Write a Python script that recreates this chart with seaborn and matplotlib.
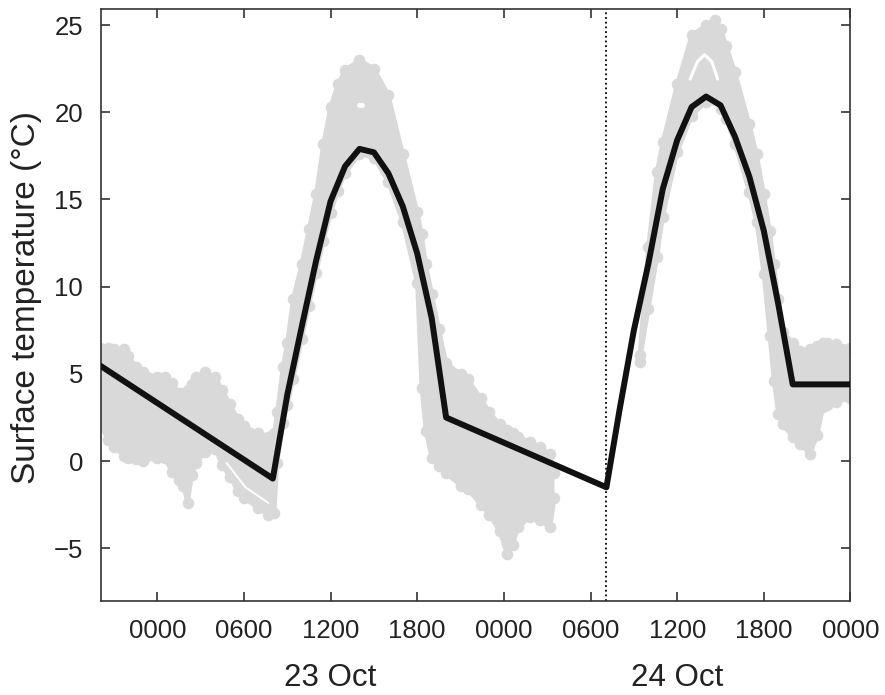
import numpy as np
import pandas as pd
import matplotlib
matplotlib.use("Agg")
import matplotlib.pyplot as plt
import seaborn as sns
from matplotlib.transforms import blended_transform_factory

# ---------------- data (hours relative to 0000 on 23 Oct) ----------------
mean_hours = [-4, 8, 9, 10, 11, 12, 13, 14, 15, 16, 17, 18, 19, 20,
              31.1, 32, 33, 34, 35, 36, 37, 38, 39, 40, 41, 42, 43, 44, 48]
mean_temp = [5.5, -1.0, 3.8, 7.7, 11.5, 14.9, 16.9, 17.9, 17.7, 16.5, 14.6, 11.9, 8.2, 2.5,
             -1.5, 2.9, 7.5, 11.3, 15.6, 18.4, 20.3, 20.9, 20.4, 18.6, 16.3, 13.2, 9.0, 4.4, 4.4]

cloud_hours = [-4, -3.4, -3, -2.3, -2, -1.5, -1, 0, 0.5, 1, 1.5, 1.8, 2.1, 2.4, 2.7, 3.3,
               4, 4.5, 5, 5.6, 6, 7, 7.7, 8.1, 8.3, 8.7, 9, 9.4, 10, 10.5, 11, 11.5, 12,
               12.5, 13, 14, 15, 16, 17, 18, 18.3, 18.6, 19, 19.5, 20, 21, 21.5, 22.4, 23,
               23.7, 24.2, 24.6, 25, 25.8, 26.5, 27.2, 27.5, 30,
               33.4, 34, 34.6, 35, 36, 37, 38, 38.6, 39, 39.4, 40, 41, 41.5, 42, 42.4,
               42.7, 43, 43.3, 44, 44.5, 45.2, 45.7, 46.1, 46.4, 47, 48]
cloud_upper = [6.5, 6.5, 6.4, 6.4, 6.0, 5.4, 5.1, 4.8, 4.8, 4.5, 3.9, 3.9, 4.1, 4.4, 4.8, 5.1,
               4.8, 4.1, 3.3, 2.4, 2.0, 1.6, 1.4, 1.6, 2.8, 5.4, 6.8, 9.3, 11.3, 13.3, 15.3, 18.2, 20.3,
               21.6, 22.4, 23.0, 22.5, 21.0, 17.6, 14.3, 13.0, 11.3, 9.6, 7.6, 5.6, 5.0, 4.7, 3.6, 2.8,
               2.1, 1.8, 1.6, 1.4, 1.1, 0.8, 0.4, -0.7, None,
               6.1, 12.3, 16.6, 18.3, 21.6, 24.4, 25.0, 25.3, 24.8, 23.8, 22.3, 19.3, 17.6, 15.3, 13.2,
               11.3, 9.3, 7.4, 6.8, 6.3, 6.4, 6.6, 6.8, 6.8, 6.7, 6.5]
cloud_lower = [2.2, 1.2, 0.8, 0.3, 0.2, 0.1, 0.0, 0.2, 0.2, -0.6, -1.1, -1.4, -2.4, -0.8, -0.1, 0.5,
               0.7, -0.2, -0.9, -1.7, -2.1, -2.7, -3.1, -3.0, -0.1, 2.2, 3.2, 4.7, 7.0, 8.9, 10.8, 12.6, 14.2,
               15.5, 16.5, 17.6, 17.4, 16.0, 13.7, 10.2, 4.2, 1.7, 0.2, -0.3, -0.7, -1.4, -1.6, -2.5, -3.1,
               -4.0, -5.3, -4.8, -3.8, -3.2, -3.4, -3.8, -2.1, None,
               5.7, 8.7, 11.7, 14.0, 17.7, 19.8, 20.6, 20.7, 20.2, 19.6, 18.2, 15.4, 13.7, 10.7, 7.2,
               4.6, 2.7, 2.1, 1.4, 1.0, 0.4, 1.5, 3.1, 3.2, 3.4, 3.6]

# small gaps visible inside the cloud of individual readings
gap_night_hours = [4.8, 6.1, 7.7]
gap_night_temp = [-0.1, -1.5, -2.4]
gap_day1_hours = [13.95, 14.15]
gap_day1_temp = [20.4, 20.4]
gap_day2_hours = [36.9, 37.4, 37.9, 38.4, 38.8]
gap_day2_temp = [21.9, 22.9, 23.3, 22.9, 21.9]

sunrise_hour = 31.1
tick_hours = [0, 6, 12, 18, 24, 30, 36, 42, 48]
tick_labels = ["0000", "0600", "1200", "1800", "0000", "0600", "1200", "1800", "0000"]
day_label_hours = [12, 36]
day_labels = ["23 Oct", "24 Oct"]

# ---------------- figure ----------------
sns.set_style("ticks")
plt.rcParams["font.family"] = ["Liberation Sans", "DejaVu Sans"]

fig = plt.figure(figsize=(8.85, 6.95), dpi=100)
ax = fig.add_axes([0.1141, 0.1357, 0.8469, 0.8509])

gray = "#d9d9d9"
cloud = pd.DataFrame({
    "hour": cloud_hours,
    "upper": pd.to_numeric(pd.Series(cloud_upper), errors="coerce"),
    "lower": pd.to_numeric(pd.Series(cloud_lower), errors="coerce"),
})
ax.fill_between(cloud["hour"], cloud["lower"], cloud["upper"], color=gray, lw=0, zorder=1)
for col in ["upper", "lower"]:
    ax.plot(cloud["hour"], cloud[col], color=gray, lw=3, solid_joinstyle="round",
            solid_capstyle="round", zorder=1)
    sns.scatterplot(data=cloud, x="hour", y=col, ax=ax, color=gray, s=70,
                    linewidth=0, zorder=1, legend=False)

ax.plot(gap_night_hours, gap_night_temp, color="white", lw=1.4, zorder=1.5)
ax.plot(gap_day1_hours, gap_day1_temp, color="white", lw=3.5, solid_capstyle="round", zorder=1.5)
ax.plot(gap_day2_hours, gap_day2_temp, color="white", lw=2.2, zorder=1.5)

mean_df = pd.DataFrame({"hour": mean_hours, "temp": mean_temp})
sns.lineplot(data=mean_df, x="hour", y="temp", ax=ax, color="#111111", lw=4.3,
             sort=False, estimator=None, zorder=3)

ax.axvline(sunrise_hour, color="black", ls=(0, (1, 1.6)), lw=1.3, zorder=2)

ax.set_xlim(-3.9, 48)
ax.set_ylim(-8, 25.9)
ax.set_xticks(tick_hours)
ax.set_xticklabels(tick_labels)
ax.set_yticks([-5, 0, 5, 10, 15, 20, 25])
ax.set_yticklabels(["\u22125", "0", "5", "10", "15", "20", "25"])
ax.set_xlabel("")
ax.set_ylabel("Surface temperature (\u00b0C)", fontsize=24, color="#222222")
ax.yaxis.set_label_coords(-0.079, 0.512)

ax.tick_params(axis="both", direction="in", length=6.5, width=1.1, top=True, right=True,
               labelsize=18.5, pad=13, colors="#222222")
for s in ax.spines.values():
    s.set_linewidth(1.2)
    s.set_color("#333333")

trans = blended_transform_factory(ax.transData, ax.transAxes)
for h, lab in zip(day_label_hours, day_labels):
    ax.text(h, -0.13, lab, transform=trans, ha="center", va="center", fontsize=22.5,
            color="#222222")

fig.savefig("out.png", dpi=100)
